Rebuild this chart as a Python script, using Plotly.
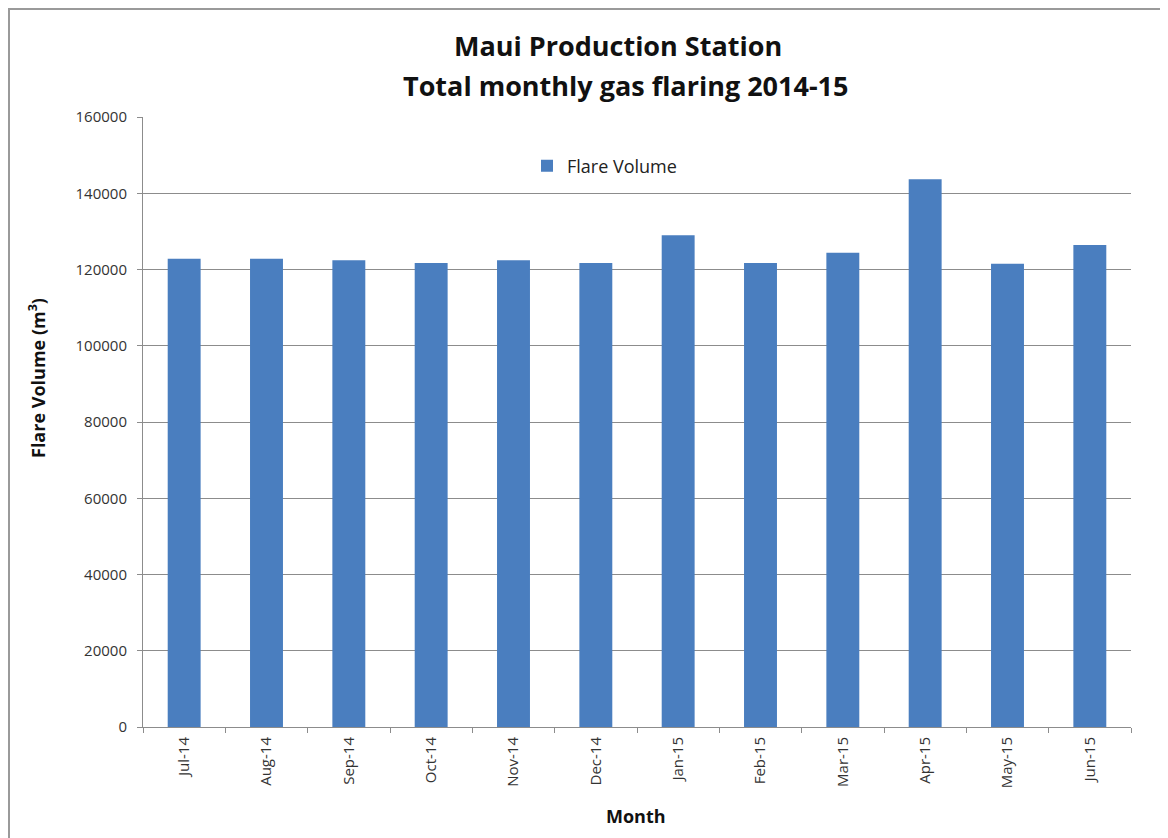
import plotly.graph_objects as go

months = ["Jul-14", "Aug-14", "Sep-14", "Oct-14", "Nov-14", "Dec-14",
          "Jan-15", "Feb-15", "Mar-15", "Apr-15", "May-15", "Jun-15"]
flare_volume = [122800, 122800, 122400, 121700, 122400, 121700,
                129000, 121700, 124400, 143700, 121500, 126400]
y_ticks = [0, 20000, 40000, 60000, 80000, 100000, 120000, 140000, 160000]

# screen-space layout (page body has an 8px margin)
OFF = 8
W, H = 1160, 830
L, R, T, B = 143, 1131, 117, 727

fig = go.Figure()
fig.add_trace(go.Bar(
    x=months, y=flare_volume, name="Flare Volume",
    marker=dict(color="#4a7ebf", line=dict(width=0)),
    showlegend=True,
))

pw, ph = R - L, B - T
def px(x):
    return (x - L) / pw
def py(y):
    return (B - y) / ph

title_font = dict(family="Open Sans", size=27, color="#111111", weight="bold")
axis_title_font = dict(family="Open Sans", size=18, color="#111111", weight="bold")

fig.update_layout(
    width=W, height=H,
    margin=dict(l=L - OFF, r=W - (R - OFF), t=T - OFF, b=H - (B - OFF)),
    paper_bgcolor="white", plot_bgcolor="white",
    bargap=0.6,
    showlegend=True,
    legend=dict(
        x=px(527), y=py(166), xanchor="left", yanchor="middle",
        font=dict(family="Open Sans", size=18, color="#222222"),
        bgcolor="rgba(0,0,0,0)", itemwidth=30,
    ),
    xaxis=dict(
        type="category", tickangle=-90,
        tickfont=dict(family="Open Sans", size=15, color="#333333"),
        showline=True, linecolor="#8c8c8c", linewidth=1,
        ticks="outside", ticklen=5, tickcolor="#8c8c8c", tickson="boundaries",
        ticklabelstandoff=3,
        showgrid=False,
    ),
    yaxis=dict(
        range=[0, 160000], tickvals=y_ticks, tickformat="d",
        tickfont=dict(family="Open Sans", size=15, color="#333333"),
        showline=True, linecolor="#8c8c8c", linewidth=1,
        ticks="outside", ticklen=5, tickcolor="#8c8c8c",
        ticklabelstandoff=7,
        showgrid=True, gridcolor="#8c8c8c", gridwidth=1,
        zeroline=False,
    ),
    annotations=[
        dict(text="Maui Production Station", xref="paper", yref="paper",
             x=px(618), y=py(46), xanchor="center", yanchor="middle",
             showarrow=False, font=title_font),
        dict(text="Total monthly gas flaring 2014-15", xref="paper", yref="paper",
             x=px(626), y=py(85), xanchor="center", yanchor="middle",
             showarrow=False, font=title_font),
        dict(text="Month", xref="paper", yref="paper",
             x=px(636), y=py(816), xanchor="center", yanchor="middle",
             showarrow=False, font=axis_title_font),
        dict(text="Flare Volume (m<sup>3</sup>)", xref="paper", yref="paper",
             x=px(37), y=py(378), xanchor="center", yanchor="middle",
             textangle=-90, showarrow=False, font=axis_title_font),
    ],
    shapes=[dict(
        type="rect", xref="paper", yref="paper",
        x0=px(9), x1=px(1165), y0=py(850), y1=py(9),
        line=dict(color="#9a9a9a", width=2), fillcolor="rgba(0,0,0,0)", layer="below",
    )],
)

fig.write_html("out.html")
